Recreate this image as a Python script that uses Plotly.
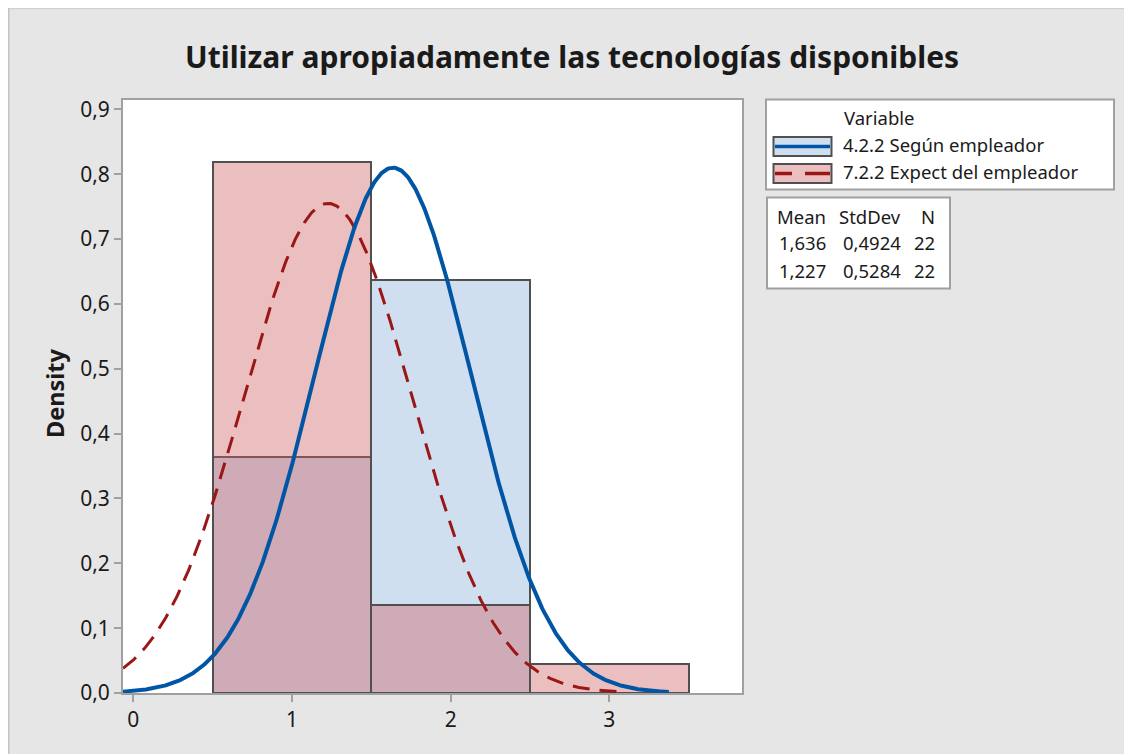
import numpy as np
import plotly.graph_objects as go

# ---------------- data ----------------
TITLE = "Utilizar apropiadamente las tecnologías disponibles"
Y_TITLE = "Density"
LEGEND_TITLE = "Variable"
SERIES = ["4.2.2 Según empleador", "7.2.2 Expect del empleador"]

BIN_CENTERS = [1, 2, 3]
BIN_WIDTH = 1.0
COUNTS_A = [8, 14, 0]      # 4.2.2 Según empleador
COUNTS_B = [18, 3, 1]      # 7.2.2 Expect del empleador

N_A, N_B = 22, 22
MEAN_A, STD_A = 1.636, 0.4924
MEAN_B, STD_B = 1.227, 0.5284

TABLE_HEADER = ["Mean", "StdDev", "N"]
TABLE_ROWS = [["1,636", "0,4924", "22"], ["1,227", "0,5284", "22"]]

X_TICKS = [0, 1, 2, 3]
Y_TICKS = [0.0, 0.1, 0.2, 0.3, 0.4, 0.5, 0.6, 0.7, 0.8, 0.9]
X_RANGE = [-0.065, 3.836]
Y_RANGE = [0.0, 0.9145]
CURVE_START = X_RANGE[0]
CURVE_END_A = 3.375
CURVE_END_B = 3.10

# ---------------- styles ----------------
OFF = 8                      # page body margin
W, H = 1132 - OFF, 754 - OFF
ML, MR, MT, MB = 123 - OFF, 390, 100 - OFF, 61
PW, PH = W - ML - MR, H - MT - MB
FONT = "Noto Sans"
TXT = "#1a1a1a"
AX = "#a0a0a0"
OUTLINE = "#505050"
BLUE_FILL = "#cfdff0"
RED_FILL = "rgba(205,92,95,0.4)"
RED_SWATCH = "#ebbebf"
BLUE_LINE = "#0055a5"
RED_LINE = "#9b1616"
LEG_SIZE = 18.5


def px(x):
    """page pixel x -> paper coordinate"""
    return (x - OFF - ML) / PW


def py(y):
    """page pixel y -> paper coordinate"""
    return (H - MB - (y - OFF)) / PH


def normal_pdf(x, m, s):
    return np.exp(-0.5 * ((x - m) / s) ** 2) / (s * np.sqrt(2 * np.pi))


dens_a = [c / (N_A * BIN_WIDTH) for c in COUNTS_A]
dens_b = [c / (N_B * BIN_WIDTH) for c in COUNTS_B]

xa = np.linspace(CURVE_START, CURVE_END_A, 500)
xb = np.linspace(CURVE_START, CURVE_END_B, 500)

fig = go.Figure()
fig.add_trace(go.Bar(x=BIN_CENTERS, y=dens_a, width=BIN_WIDTH, name=SERIES[0],
                     marker=dict(color=BLUE_FILL, line=dict(color=OUTLINE, width=2)),
                     showlegend=False))
fig.add_trace(go.Bar(x=BIN_CENTERS, y=dens_b, width=BIN_WIDTH, name=SERIES[1],
                     marker=dict(color=RED_FILL, line=dict(color=OUTLINE, width=2)),
                     showlegend=False))
fig.add_trace(go.Scatter(x=xb, y=normal_pdf(xb, MEAN_B, STD_B), mode="lines",
                         line=dict(color=RED_LINE, width=3, dash="17px,10px"),
                         showlegend=False))
fig.add_trace(go.Scatter(x=xa, y=normal_pdf(xa, MEAN_A, STD_A), mode="lines",
                         line=dict(color=BLUE_LINE, width=4),
                         showlegend=False))

axis_common = dict(showline=True, linecolor=AX, linewidth=2, mirror=True,
                   ticks="outside", ticklen=7, tickwidth=2, tickcolor=AX,
                   showgrid=False, zeroline=False,
                   tickfont=dict(family=FONT, size=21, color=TXT))

fig.update_xaxes(range=X_RANGE, tickvals=X_TICKS, **axis_common)
fig.update_yaxes(range=Y_RANGE, tickvals=Y_TICKS, tickformat=".1f", **axis_common)

shapes = []
annotations = []

# outer frame lines (top / left)
shapes.append(dict(type="line", xref="paper", yref="paper", x0=px(6), x1=px(1132), y0=py(8.5), y1=py(8.5),
                   line=dict(color="#d0d0d0", width=1.5), layer="above"))
shapes.append(dict(type="line", xref="paper", yref="paper", x0=px(8.5), x1=px(8.5), y0=py(8), y1=py(754),
                   line=dict(color="#c4c4c4", width=2), layer="above"))

# legend box
shapes.append(dict(type="rect", xref="paper", yref="paper", x0=px(766), x1=px(1114), y0=py(99.5), y1=py(189.5),
                   fillcolor="white", line=dict(color=AX, width=2), layer="above"))
annotations.append(dict(xref="paper", yref="paper", x=px(842), y=py(117.5), text=LEGEND_TITLE,
                        showarrow=False, xanchor="left", yanchor="middle",
                        font=dict(family=FONT, size=LEG_SIZE, color=TXT)))
rows_y = [146.5, 173.5]
fills = [BLUE_FILL, RED_SWATCH]
for i, name in enumerate(SERIES):
    yc = rows_y[i]
    shapes.append(dict(type="rect", xref="paper", yref="paper", x0=px(773.5), x1=px(831.5),
                       y0=py(yc - 9.5), y1=py(yc + 9.5), fillcolor=fills[i],
                       line=dict(color=OUTLINE, width=2), layer="above"))
    annotations.append(dict(xref="paper", yref="paper", x=px(841), y=py(yc - 2.5), text=name,
                            showarrow=False, xanchor="left", yanchor="middle",
                            font=dict(family=FONT, size=LEG_SIZE, color=TXT)))
shapes.append(dict(type="line", xref="paper", yref="paper", x0=px(775), x1=px(830), y0=py(rows_y[0]), y1=py(rows_y[0]),
                   line=dict(color=BLUE_LINE, width=3.5), layer="above"))
for a, b in [(775, 792), (805, 830)]:
    shapes.append(dict(type="line", xref="paper", yref="paper", x0=px(a), x1=px(b), y0=py(rows_y[1]), y1=py(rows_y[1]),
                       line=dict(color=RED_LINE, width=3.5), layer="above"))

# stats table
shapes.append(dict(type="rect", xref="paper", yref="paper", x0=px(767), x1=px(950), y0=py(197.5), y1=py(288.5),
                   fillcolor="white", line=dict(color=AX, width=2), layer="above"))
col_x = [828, 903, 937]
for j, h in enumerate(TABLE_HEADER):
    annotations.append(dict(xref="paper", yref="paper", x=px(col_x[j]), y=py(216), text=h,
                            showarrow=False, xanchor="right", yanchor="middle",
                            font=dict(family=FONT, size=LEG_SIZE, color=TXT)))
for i, row in enumerate(TABLE_ROWS):
    for j, v in enumerate(row):
        annotations.append(dict(xref="paper", yref="paper", x=px(col_x[j]), y=py(242 + 28 * i), text=v,
                                showarrow=False, xanchor="right", yanchor="middle",
                                font=dict(family=FONT, size=LEG_SIZE, color=TXT)))

# title and y-axis title
annotations.append(dict(xref="paper", yref="paper", x=px(572), y=py(57), text=TITLE,
                        showarrow=False, xanchor="center", yanchor="middle",
                        font=dict(family=FONT, size=30, color=TXT, weight="bold")))
annotations.append(dict(xref="paper", yref="paper", x=px(55), y=py(393), text=Y_TITLE,
                        showarrow=False, xanchor="center", yanchor="middle", textangle=-90,
                        font=dict(family=FONT, size=23.5, color=TXT, weight="bold")))

fig.update_layout(width=W, height=H, margin=dict(l=ML, r=MR, t=MT, b=MB),
                  paper_bgcolor="#e6e6e6", plot_bgcolor="white",
                  barmode="overlay", bargap=0, separators=",.",
                  shapes=shapes, annotations=annotations, showlegend=False,
                  font=dict(family=FONT, color=TXT))

fig.write_html("out.html")
